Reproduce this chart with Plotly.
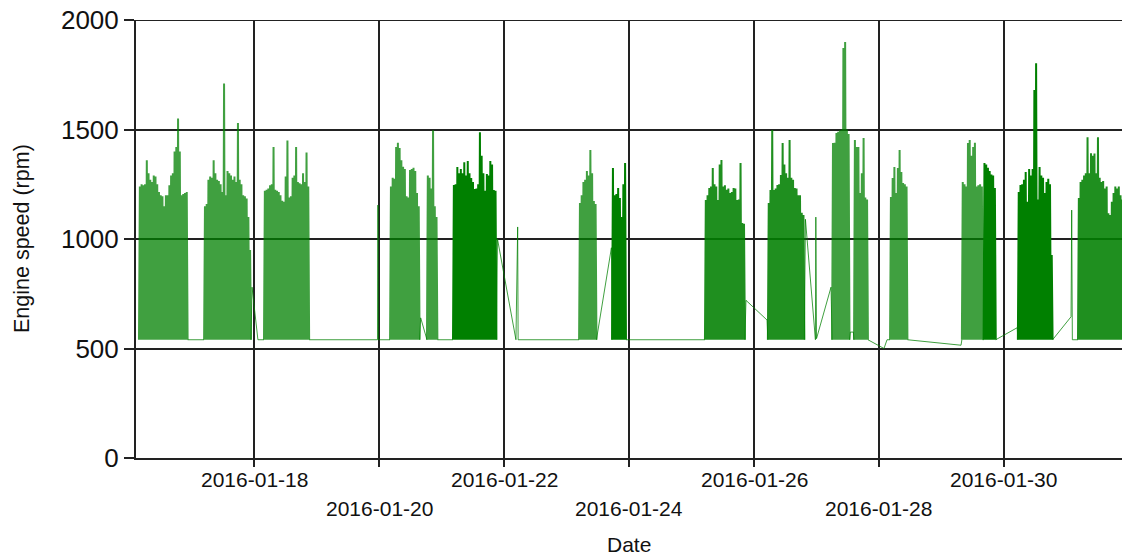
import pandas as pd
import plotly.graph_objects as go

# ---------------- data ----------------
idle_rpm = 540          # idle engine speed between bursts
sample_minutes = 20     # logger sampling interval

block_starts = [
    "2016-01-16 03:50", "2016-01-17 04:50", "2016-01-18 03:50",
    "2016-01-20 04:15", "2016-01-20 18:25", "2016-01-21 04:25",
    "2016-01-23 04:50", "2016-01-23 17:30", "2016-01-25 05:10",
    "2016-01-26 05:20", "2016-01-27 06:00", "2016-01-27 14:25",
    "2016-01-28 04:15", "2016-01-29 07:50", "2016-01-29 16:10",
    "2016-01-30 05:20", "2016-01-31 04:25",
]

b01_tops = [1240, 1250, 1245, 1250, 1360, 1300, 1270, 1260, 1290, 1285, 1250, 1215, 1200, 1195,
            1150, 1200, 1200, 1245, 1290, 1300, 1400, 1420, 1550, 1400, 1200, 1205, 1210, 1215]
b02_tops = [1150, 1160, 1270, 1285, 1280, 1360, 1300, 1270, 1265, 1250, 1215, 1710, 1200, 1310,
            1300, 1290, 1270, 1285, 1260, 1530, 1270, 1250, 1200, 1195, 1185, 1100, 950]
b03_tops = [1220, 1225, 1230, 1245, 1250, 1420, 1225, 1220, 1215, 1200, 1175, 1170, 1285, 1450,
            1190, 1195, 1280, 1290, 1420, 1260, 1255, 1250, 1300, 1260, 1395, 1240]
b04_tops = [1240, 1280, 1275, 1420, 1440, 1415, 1360, 1330, 1320, 1195, 1190, 1315, 1320, 1325,
            1310, 1210, 1150]
b05_tops = [1290, 1280, 1230, 1497, 1150, 1100]
b06_tops = [1246, 1250, 1329, 1300, 1320, 1300, 1350, 1290, 1356, 1300, 1278, 1260, 1228, 1230,
            1250, 1488, 1380, 1300, 1220, 1297, 1290, 1356, 1340, 1224, 1220]
b07_tops = [1164, 1200, 1260, 1270, 1310, 1290, 1406, 1300, 1173, 1160]
b08_tops = [1324, 1200, 1205, 1233, 1187, 1100, 1250, 1347]
b09_tops = [1178, 1200, 1233, 1240, 1324, 1250, 1240, 1178, 1340, 1361, 1240, 1245, 1225, 1230,
            1210, 1215, 1233, 1230, 1178, 1180, 1347, 1073, 1070]
b10_tops = [1164, 1224, 1498, 1224, 1230, 1246, 1250, 1292, 1438, 1340, 1300, 1280, 1452, 1280,
            1270, 1233, 1230, 1200, 1200, 1120, 1110]
b11_tops = [1438, 1440, 1484, 1490, 1497, 1500, 1872, 1900, 1500, 1480]
b12_tops = [1452, 1420, 1420, 1210, 1300, 1461, 1190, 1180]
b13_tops = [1192, 1278, 1329, 1210, 1324, 1406, 1306, 1256, 1250, 1240]
b14_tops = [1260, 1250, 1240, 1438, 1452, 1380, 1420, 1440, 1240, 1245, 1250, 1240]
b15_tops = [1347, 1340, 1325, 1310, 1295, 1290, 1233]
b16_tops = [1215, 1246, 1250, 1270, 1306, 1170, 1320, 1290, 1320, 1680, 1803, 1180, 1329, 1290,
            1280, 1210, 1260, 1275, 1250, 927]
b17_tops = [1187, 1260, 1270, 1290, 1300, 1465, 1300, 1392, 1380, 1390, 1300, 1465, 1280, 1260,
            1265, 1230, 1240, 1118, 1110, 1170, 1210, 1240, 1230, 1240, 1200, 1180, 1230]

block_tops = [b01_tops, b02_tops, b03_tops, b04_tops, b05_tops, b06_tops, b07_tops, b08_tops,
              b09_tops, b10_tops, b11_tops, b12_tops, b13_tops, b14_tops, b15_tops, b16_tops,
              b17_tops]

# isolated readings between the bursts (transitions and single spikes)
conn_times = [
    "2016-01-17 23:15", "2016-01-18 01:30",
    "2016-01-19 23:25", "2016-01-19 23:35", "2016-01-19 23:45",
    "2016-01-20 16:00",
    "2016-01-21 21:30", "2016-01-22 04:35", "2016-01-22 05:15", "2016-01-22 05:25",
    "2016-01-23 17:15",
    "2016-01-25 20:55", "2016-01-26 05:00",
    "2016-01-26 19:45", "2016-01-26 23:35", "2016-01-26 23:45", "2016-01-27 00:00",
    "2016-01-27 05:35",
    "2016-01-27 13:00", "2016-01-27 14:10",
    "2016-01-28 01:55", "2016-01-28 03:05",
    "2016-01-29 07:30",
    "2016-01-30 05:05",
    "2016-01-31 01:45", "2016-01-31 02:00", "2016-01-31 02:15",
]
conn_values = [
    780, 540,
    540, 1155, 540,
    640,
    1000, 540, 1055, 540,
    960,
    720, 630,
    1090, 540, 1100, 545,
    780,
    575, 575,
    500, 540,
    515,
    595,
    645, 1132, 540,
]

tick_dates = ["2016-01-18", "2016-01-20", "2016-01-22", "2016-01-24",
              "2016-01-26", "2016-01-28", "2016-01-30"]
y_ticks = [0, 500, 1000, 1500, 2000]
x_range = ["2016-01-16 02:41", "2016-01-31 21:19"]

# ---------------- styles ----------------
GREEN_LIGHT = "rgba(0,128,0,0.75)"
GREEN_MID = "rgba(0,128,0,0.88)"
GREEN_DARK = "rgb(0,128,0)"
block_colors = [GREEN_LIGHT, GREEN_LIGHT, GREEN_LIGHT, GREEN_LIGHT, GREEN_LIGHT, GREEN_DARK,
                GREEN_LIGHT, GREEN_DARK, GREEN_MID, GREEN_MID, GREEN_LIGHT, GREEN_LIGHT,
                GREEN_LIGHT, GREEN_LIGHT, GREEN_DARK, GREEN_DARK, GREEN_MID]
FONT = "Liberation Sans, Arial, sans-serif"
GRID = "#222222"
TEXT = "#111111"


def block_series(start, tops):
    times = pd.date_range(start, periods=2 * len(tops) + 1, freq=f"{sample_minutes}min")
    vals = []
    for t in tops:
        vals += [idle_rpm, t]
    vals.append(idle_rpm)
    return list(times), vals


blocks = [block_series(s, t) for s, t in zip(block_starts, block_tops)]
conn = pd.Series(conn_values, index=pd.to_datetime(conn_times))

fig = go.Figure()

# transitions between bursts (thin line)
for i in range(len(blocks) - 1):
    t0, v0 = blocks[i][0][-1], blocks[i][1][-1]
    t1, v1 = blocks[i + 1][0][0], blocks[i + 1][1][0]
    mid = conn[(conn.index > t0) & (conn.index < t1)]
    xs = [t0] + list(mid.index) + [t1]
    ys = [v0] + list(mid.values) + [v1]
    fig.add_trace(go.Scatter(x=xs, y=ys, mode="lines",
                             line=dict(color=GREEN_LIGHT, width=1, simplify=False),
                             hoverinfo="skip", showlegend=False))

# dense running bursts
for (bt, bv), col in zip(blocks, block_colors):
    fig.add_trace(go.Scatter(x=bt, y=bv, mode="lines",
                             line=dict(color=col, width=2, simplify=False),
                             hoverinfo="skip", showlegend=False))

fig.update_layout(
    width=1122, height=557,
    margin=dict(l=136, r=0, t=20, b=99),
    paper_bgcolor="white", plot_bgcolor="white",
    font=dict(family=FONT, color=TEXT),
    showlegend=False,
)
fig.update_xaxes(type="date", range=x_range, tickmode="array", tickvals=tick_dates,
                 showticklabels=False, ticks="outside", ticklen=7, tickwidth=2,
                 tickcolor=GRID, showgrid=True, gridcolor=GRID, gridwidth=2,
                 showline=True, linecolor=GRID, linewidth=2, zeroline=False)
fig.update_yaxes(range=[0, 2000], tickmode="array", tickvals=y_ticks,
                 ticks="outside", ticklen=10, tickwidth=2, tickcolor=GRID,
                 tickfont=dict(size=26, family=FONT, color=TEXT),
                 showgrid=True, gridcolor=GRID, gridwidth=2,
                 showline=True, linecolor=GRID, linewidth=2, zeroline=False)

# top grid line (at the highest y tick, on the plot edge)
fig.add_shape(type="line", xref="paper", x0=0, x1=1, yref="y", y0=y_ticks[-1], y1=y_ticks[-1],
              line=dict(color=GRID, width=2), layer="below")

annotations = []
for i, d in enumerate(tick_dates):
    annotations.append(dict(x=d, xref="x", y=-0.048 if i % 2 == 0 else -0.1164, yref="paper",
                            text=d, showarrow=False, xanchor="center", yanchor="middle",
                            font=dict(size=21, family=FONT, color=TEXT)))
annotations.append(dict(x=0.5, xref="paper", y=-0.1986, yref="paper", text="Date",
                        showarrow=False, xanchor="center", yanchor="middle",
                        font=dict(size=21, family=FONT, color=TEXT)))
annotations.append(dict(x=-0.1156, xref="paper", y=0.5, yref="paper", text="Engine speed (rpm)",
                        textangle=-90, showarrow=False, xanchor="center", yanchor="middle",
                        font=dict(size=21.5, family=FONT, color=TEXT)))
fig.update_layout(annotations=annotations)

fig.write_html("out.html", config={"displayModeBar": False},
               post_script="document.body.style.margin='0px';")
